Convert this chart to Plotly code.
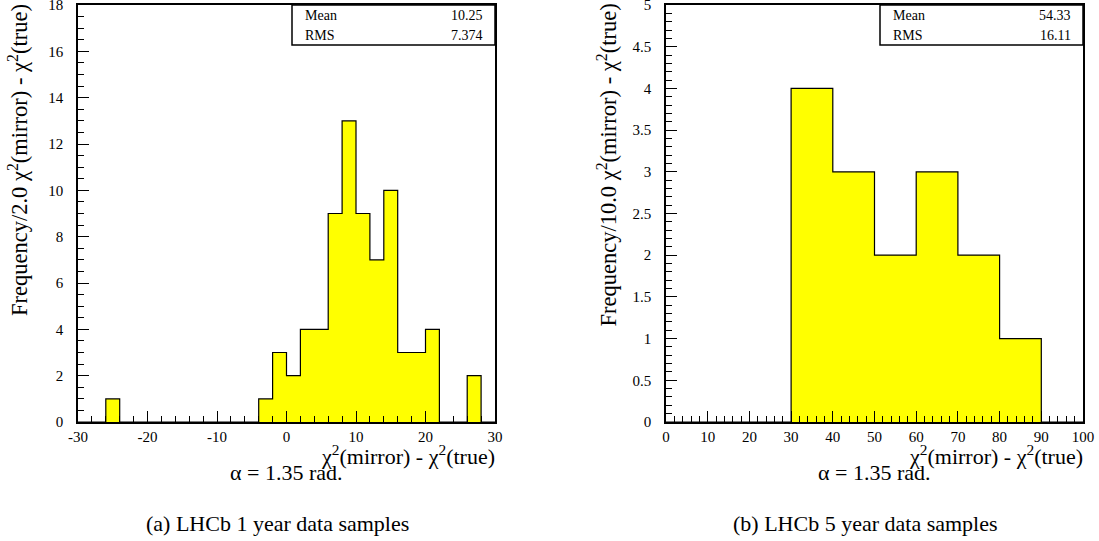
import plotly.graph_objects as go

# ---------------- data ----------------
# (a) LHCb 1 year: bins of width 2 from -30 to 30 (lower edges)
left_edges = [-30, -28, -26, -24, -22, -20, -18, -16, -14, -12, -10, -8, -6, -4, -2,
              0, 2, 4, 6, 8, 10, 12, 14, 16, 18, 20, 22, 24, 26, 28]
left_counts = [0, 0, 1, 0, 0, 0, 0, 0, 0, 0, 0, 0, 0, 1, 3,
               2, 4, 4, 9, 13, 9, 7, 10, 3, 3, 4, 0, 0, 2, 0]
left_bin_width = 2
left_stats = {"Mean": "10.25", "RMS": "7.374"}

# (b) LHCb 5 year: bins of width 10 from 0 to 100
right_edges = [0, 10, 20, 30, 40, 50, 60, 70, 80, 90]
right_counts = [0, 0, 0, 4, 3, 2, 3, 2, 1, 0]
right_bin_width = 10
right_stats = {"Mean": "54.33", "RMS": "16.11"}

left_xticks = [-30, -20, -10, 0, 10, 20, 30]
left_xticklabels = ["-30", "-20", "-10", "0", "10", "20", "30"]
right_xticks = [0, 10, 20, 30, 40, 50, 60, 70, 80, 90, 100]
right_xticklabels = [str(v) for v in right_xticks]

left_ytitle = "Frequency/2.0 χ<sup>2</sup>(mirror) - χ<sup>2</sup>(true)"
right_ytitle = "Frequency/10.0 χ<sup>2</sup>(mirror) - χ<sup>2</sup>(true)"
xtitle = "χ<sup>2</sup>(mirror) - χ<sup>2</sup>(true)"
alpha_text = "α = 1.35 rad."
left_caption = "(a) LHCb 1 year data samples"
right_caption = "(b) LHCb 5 year data samples"

# ---------------- layout constants ----------------
W, H = 1099, 541
FONT = "Liberation Serif, Times New Roman, serif"
YELLOW = "#ffff00"


def px(x):
    return x / W


def py(y):
    return 1 - y / H


fig = go.Figure()


def add_hist(edges, counts, bw, xa, ya):
    centers = [e + bw / 2 for e in edges]
    fig.add_trace(go.Bar(x=centers, y=counts, width=bw, marker=dict(color=YELLOW, line=dict(width=0)),
                         xaxis=xa, yaxis=ya, showlegend=False, hoverinfo="skip"))
    sx = [edges[0]] + list(edges) + [edges[-1] + bw, edges[-1] + bw]
    sy = [0] + list(counts) + [counts[-1], 0]
    fig.add_trace(go.Scatter(x=sx, y=sy, mode="lines", line=dict(color="black", width=1.2, shape="hv"),
                             xaxis=xa, yaxis=ya, showlegend=False, hoverinfo="skip", cliponaxis=False))


add_hist(left_edges, left_counts, left_bin_width, "x", "y")
add_hist(right_edges, right_counts, right_bin_width, "x2", "y2")

ydom = [py(422), py(5)]
axis_common = dict(showline=True, linecolor="black", linewidth=1.5, mirror=True, showgrid=False,
                   zeroline=False, ticks="inside", ticklen=11, tickwidth=1.2, tickcolor="black",
                   automargin=False, ticklabeloverflow="allow",
                   tickfont=dict(family=FONT, size=15, color="black"), fixedrange=True)

fig.update_layout(
    template="none",
    width=W, height=H, margin=dict(l=0, r=0, t=0, b=0, pad=0),
    paper_bgcolor="white", plot_bgcolor="white", bargap=0,
    xaxis=dict(domain=[px(78), px(495)], range=[-30, 30], anchor="y",
               tickmode="array", tickvals=left_xticks, ticktext=left_xticklabels,
               minor=dict(tickmode="linear", tick0=0, dtick=2, ticks="inside", ticklen=6, tickwidth=1.2,
                          tickcolor="black", showgrid=False),
               **axis_common),
    yaxis=dict(domain=ydom, range=[0, 18], anchor="x", tickmode="linear", tick0=0, dtick=2,
               minor=dict(tickmode="linear", tick0=0, dtick=0.5, ticks="inside", ticklen=6, tickwidth=1.2,
                          tickcolor="black", showgrid=False),
               ticklabelstandoff=10, **axis_common),
    xaxis2=dict(domain=[px(666), px(1083)], range=[0, 100], anchor="y2",
                tickmode="array", tickvals=right_xticks, ticktext=right_xticklabels,
                minor=dict(tickmode="linear", tick0=0, dtick=2, ticks="inside", ticklen=6, tickwidth=1.2,
                           tickcolor="black", showgrid=False),
                **axis_common),
    yaxis2=dict(domain=ydom, range=[0, 5], anchor="x2", tickmode="linear", tick0=0, dtick=0.5,
                minor=dict(tickmode="linear", tick0=0, dtick=0.1, ticks="inside", ticklen=6, tickwidth=1.2,
                           tickcolor="black", showgrid=False),
                ticklabelstandoff=10, **axis_common),
)


def add_panel_text(off, ytitle, stats, caption):
    # stats box
    fig.add_shape(type="rect", xref="paper", yref="paper", x0=px(292 + off), x1=px(495 + off),
                  y0=py(45), y1=py(5), line=dict(color="black", width=1.5), fillcolor="white", layer="above")
    for i, (k, v) in enumerate(stats.items()):
        yy = py(15 + 20 * i)
        fig.add_annotation(x=px(303 + off), y=yy, xref="paper", yref="paper", text=k, showarrow=False,
                           xanchor="left", yanchor="middle", font=dict(family=FONT, size=14, color="black"))
        fig.add_annotation(x=px(485 + off), y=yy, xref="paper", yref="paper", text=v, showarrow=False,
                           xanchor="right", yanchor="middle", font=dict(family=FONT, size=14, color="black"))
    # x title
    fig.add_annotation(x=px(497 + off), y=py(455), xref="paper", yref="paper", text=xtitle, showarrow=False,
                       xanchor="right", yanchor="middle", font=dict(family=FONT, size=22, color="black"))
    # y title
    fig.add_annotation(x=px(18 + off), y=py(2), xref="paper", yref="paper", text=ytitle, showarrow=False,
                       textangle=-90, xanchor="center", yanchor="top",
                       font=dict(family=FONT, size=22.5, color="black"))
    # alpha
    fig.add_annotation(x=px(286 + off), y=py(472), xref="paper", yref="paper", text=alpha_text,
                       showarrow=False, xanchor="center", yanchor="middle",
                       font=dict(family=FONT, size=22, color="black"))
    # caption
    fig.add_annotation(x=px(277 + off), y=py(523), xref="paper", yref="paper", text=caption,
                       showarrow=False, xanchor="center", yanchor="middle",
                       font=dict(family=FONT, size=22, color="black"))


add_panel_text(0, left_ytitle, left_stats, left_caption)
add_panel_text(588, right_ytitle, right_stats, right_caption)

fig.write_html(
    "out.html",
    config={"displayModeBar": False},
    post_script="document.body.style.margin='0';document.body.style.overflow='hidden';",
)
